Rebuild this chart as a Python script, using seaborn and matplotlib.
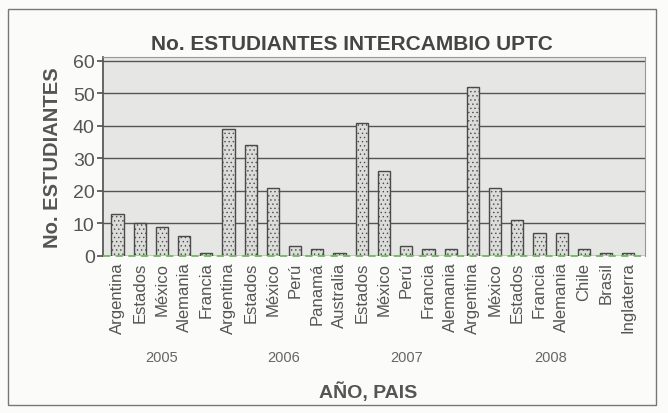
import matplotlib
matplotlib.use("Agg")
import matplotlib.pyplot as plt
import seaborn as sns
import pandas as pd
from matplotlib.patches import Rectangle

years = ["2005", "2006", "2007", "2008"]
countries_2005 = ["Argentina", "Estados", "México", "Alemania", "Francia"]
values_2005 = [13, 10, 9, 6, 1]
countries_2006 = ["Argentina", "Estados", "México", "Perú", "Panamá", "Australia"]
values_2006 = [39, 34, 21, 3, 2, 1]
countries_2007 = ["Estados", "México", "Perú", "Francia", "Alemania"]
values_2007 = [41, 26, 3, 2, 2]
countries_2008 = ["Argentina", "México", "Estados", "Francia", "Alemania", "Chile", "Brasil", "Inglaterra"]
values_2008 = [52, 21, 11, 7, 7, 2, 1, 1]
yticks = [0, 10, 20, 30, 40, 50, 60]

groups = [(years[0], countries_2005, values_2005),
          (years[1], countries_2006, values_2006),
          (years[2], countries_2007, values_2007),
          (years[3], countries_2008, values_2008)]
rows = []
for yr, cs, vs in groups:
    for c, v in zip(cs, vs):
        rows.append({"year": yr, "country": c, "key": f"{yr}-{c}", "value": v})
df = pd.DataFrame(rows)

sns.set_theme(style="white")
plt.rcParams['font.family'] = ['Liberation Sans', 'DejaVu Sans']
plt.rcParams['hatch.linewidth'] = 0.5

fig = plt.figure(figsize=(6.68, 4.14), dpi=100)
fig.patch.set_facecolor("#fbfbf9")
ax = fig.add_axes([103/668, 1-257/414, (645-103)/668, (257-58)/414])
ax.set_facecolor("#e6e6e4")

sns.barplot(data=df, x="key", y="value", order=list(df["key"]), ax=ax,
            color="#dcdcda", edgecolor="#4a4a4a", linewidth=1.0, width=0.55,
            saturation=1, zorder=3)
for p in ax.patches:
    p.set_hatch("....")
    p.set_edgecolor("#4a4a4a")

ax.set_ylim(0, 61.2)
ax.set_xlim(-0.65, len(df) - 0.25)
ax.set_yticks(yticks)
ax.set_yticklabels([str(t) for t in yticks], fontsize=14, color="#555555")
ax.tick_params(axis="y", length=4, color="#555555", pad=2, left=True)
ax.set_xticks(range(len(df)))
ax.set_xticklabels(df["country"], rotation=90, fontsize=12, color="#555555")
ax.tick_params(axis="x", length=0, pad=4)
ax.yaxis.grid(True, color="#555555", linewidth=1.0, zorder=0)
ax.set_axisbelow(True)
for s in ["top", "right"]:
    ax.spines[s].set_color("#999999")
    ax.spines[s].set_linewidth(0.8)
ax.spines["left"].set_color("#555555")
ax.spines["bottom"].set_visible(False)
ax.axhline(0, color="#6abf5a", linestyle=(0, (4, 3)), linewidth=1.3, zorder=4, clip_on=False)

ax.set_xlabel("")
ax.set_ylabel("No. ESTUDIANTES", fontsize=14.5, fontweight="bold", color="#555555", labelpad=8)
fig.text(352/668, 1-44/414, "No. ESTUDIANTES INTERCAMBIO UPTC", ha="center", va="center",
         fontsize=15, fontweight="bold", color="#454545")

# year labels centered under each group
start = 0
ypos = -(358 - 257) / (257 - 58)
for yr, cs, vs in groups:
    center = start + (len(cs) - 1) / 2
    ax.text(center, ypos, yr, transform=ax.get_xaxis_transform(), ha="center", va="center",
            fontsize=10.5, color="#666666")
    start += len(cs)

fig.text(368/668, 1-392/414, "AÑO, PAIS", ha="center", va="center", fontsize=14,
         fontweight="bold", color="#555555")

fig.patches.append(Rectangle((8/668, 8/414), (656-8)/668, (404-8)/414,
                             transform=fig.transFigure, fill=False,
                             edgecolor="#777777", linewidth=1.0))

fig.savefig("out.png", dpi=100, facecolor=fig.get_facecolor())
